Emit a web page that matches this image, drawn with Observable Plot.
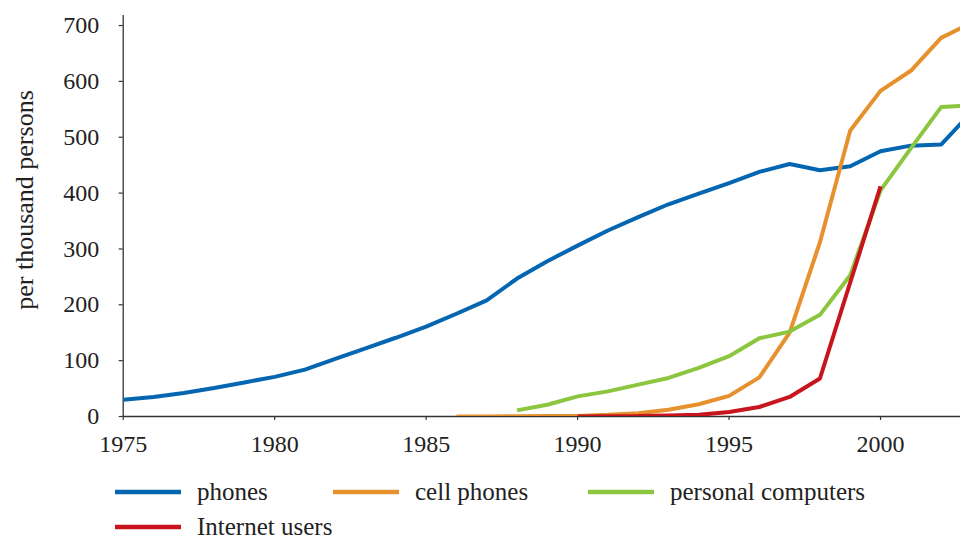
<!DOCTYPE html>
<html>
<head>
<meta charset="utf-8">
<script src="https://cdn.jsdelivr.net/npm/d3@7"></script>
<script src="https://cdn.jsdelivr.net/npm/@observablehq/plot@0.6"></script>
<style>
  html, body { margin: 0; padding: 0; background: #fff; overflow: hidden; }
  #wrap { position: relative; width: 960px; height: 540px; }
  #ylab { position: absolute; left: 25px; top: 200px; transform: translate(-50%, -50%) rotate(-90deg);
          white-space: nowrap; font-family: "Liberation Serif", serif; font-size: 26px; color: #222; }
  #legend { position: absolute; left: 0; top: 460px; }
</style>
</head>
<body>
<div id="wrap">
  <div id="chart"></div>
  <div id="ylab">per thousand persons</div>
  <svg id="legend" width="960" height="80"></svg>
</div>
<script>
const seriesNames = ["phones", "cell phones", "personal computers", "Internet users"];
const seriesColors = ["#0465b1", "#e6912d", "#8cc63f", "#c8141d"];

const phonesYears = [1975,1976,1977,1978,1979,1980,1981,1982,1983,1984,1985,1986,1987,1988,1989,1990,1991,1992,1993,1994,1995,1996,1997,1998,1999,2000,2001,2002,2003];
const phonesValues = [30,35,42,51,61,71,84,103,122,141,161,184,208,247,278,306,333,357,380,399,418,438,452,441,448,475,485,487,545];

const cellYears = [1986,1987,1988,1989,1990,1991,1992,1993,1994,1995,1996,1997,1998,1999,2000,2001,2002,2003];
const cellValues = [0,0,0.5,1,1,3,6,12,22,37,70,150,312,512,583,619,678,705];

const pcYears = [1988,1989,1990,1991,1992,1993,1994,1995,1996,1997,1998,1999,2000,2001,2002,2003];
const pcValues = [11,21,36,45,57,69,87,108,140,152,182,253,405,480,554,557];

const netYears = [1990,1991,1992,1993,1994,1995,1996,1997,1998,1999,2000];
const netValues = [0,0.5,1,2,3,8,17,35,68,240,412];

const yTicks = [0,100,200,300,400,500,600,700];
const xTicks = [1975,1980,1985,1990,1995,2000];

const toRows = (years, values, name) => years.map((y, i) => ({year: y, value: values[i], series: name}));
const allSeries = [
  toRows(phonesYears, phonesValues, seriesNames[0]),
  toRows(cellYears, cellValues, seriesNames[1]),
  toRows(pcYears, pcValues, seriesNames[2]),
  toRows(netYears, netValues, seriesNames[3])
];

const chart = Plot.plot({
  width: 960,
  height: 460,
  marginLeft: 122.7,
  marginRight: 0,
  marginTop: 15,
  marginBottom: 44,
  style: {fontFamily: "'Liberation Serif', serif", fontSize: "24px", color: "#222", background: "#fff"},
  x: {domain: [1975, 2002.64]},
  y: {domain: [0, 718]},
  marks: [
    Plot.axisY({ticks: yTicks, tickSize: 4, tickPadding: 20, label: null, stroke: "#333", strokeWidth: 1.2}),
    Plot.axisX({ticks: xTicks, tickSize: 4, tickPadding: 14, label: null, tickFormat: d3.format("d"), stroke: "#333", strokeWidth: 1.2}),
    Plot.ruleX([1975], {stroke: "#333", strokeWidth: 1.3}),
    Plot.ruleY([0], {stroke: "#333", strokeWidth: 1.3}),
    ...allSeries.map((rows, i) => Plot.line(rows, {
      x: "year", y: "value", stroke: seriesColors[i], strokeWidth: 4,
      strokeLinecap: "butt", strokeLinejoin: "miter", clip: true
    }))
  ]
});
document.getElementById("chart").appendChild(chart);

// Legend
const legendPos = [[115, 32], [333, 32], [588, 32], [115, 67]];
const lg = d3.select("#legend");
seriesNames.forEach((name, i) => {
  const [lx, ly] = legendPos[i];
  lg.append("line").attr("x1", lx).attr("x2", lx + 66).attr("y1", ly).attr("y2", ly)
    .attr("stroke", seriesColors[i]).attr("stroke-width", 4.5);
  lg.append("text").attr("x", lx + 82).attr("y", ly + 8)
    .attr("font-family", "'Liberation Serif', serif").attr("font-size", 25).attr("fill", "#222")
    .text(name);
});
</script>
</body>
</html>
